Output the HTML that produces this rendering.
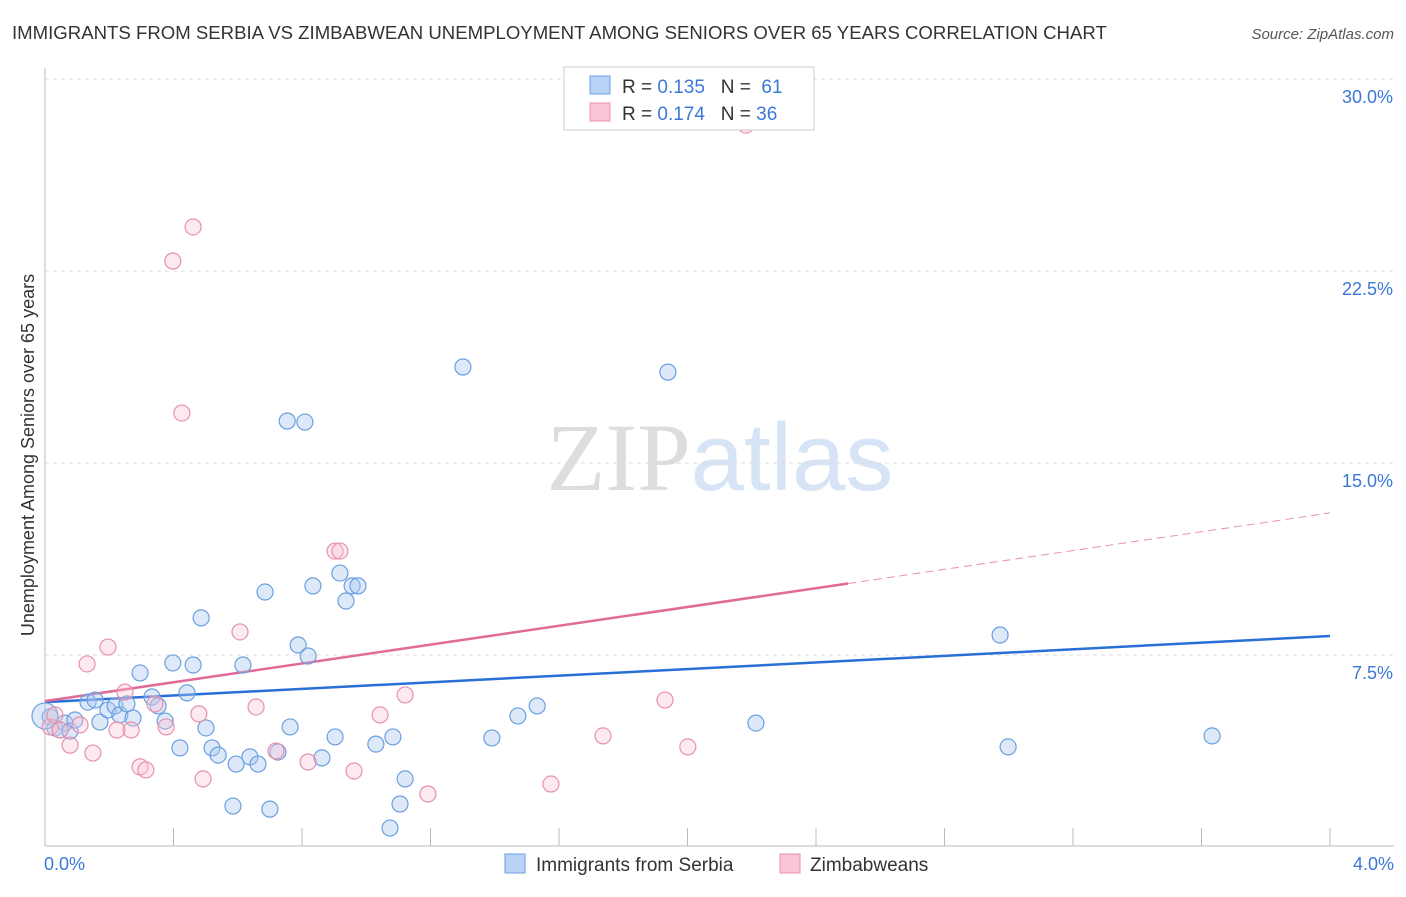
<!DOCTYPE html>
<html><head><meta charset="utf-8">
<style>
body{margin:0;background:#fff;font-family:"Liberation Sans",sans-serif;}
svg text{font-family:"Liberation Sans",sans-serif;}
</style></head>
<body>
<svg id="chart" width="1406" height="892" xmlns="http://www.w3.org/2000/svg">
<text x="12" y="39" font-size="18.6" fill="#333">IMMIGRANTS FROM SERBIA VS ZIMBABWEAN UNEMPLOYMENT AMONG SENIORS OVER 65 YEARS CORRELATION CHART</text>
<text x="1394" y="39" font-size="15" fill="#555" text-anchor="end" font-style="italic">Source: ZipAtlas.com</text>
<text x="720" y="490" font-size="96" text-anchor="middle"><tspan fill="#ddd" font-family="Liberation Serif">ZIP</tspan><tspan fill="#d6e4f5">atlas</tspan></text>
<g id="grid"></g><g id="axes"></g><g id="lines"></g><g id="points"></g>
<text transform="translate(34,455) rotate(-90)" font-size="18" fill="#333" text-anchor="middle">Unemployment Among Seniors over 65 years</text>
<g>
<rect x="564" y="67" width="250" height="63" fill="#fff" stroke="#ccc"/>
<rect x="590" y="76" width="20" height="18" fill="#b8d3f5" stroke="#6a9fe0"/>
<rect x="590" y="103" width="20" height="18" fill="#f9c6d6" stroke="#e890ad"/>
<text x="622" y="93" font-size="19" fill="#333" xml:space="preserve">R = <tspan fill="#3b78d8">0.135</tspan>   N =  <tspan fill="#3b78d8">61</tspan></text>
<text x="622" y="120" font-size="19" fill="#333" xml:space="preserve">R = <tspan fill="#3b78d8">0.174</tspan>   N = <tspan fill="#3b78d8">36</tspan></text>
</g>
<g>
<rect x="505" y="854" width="20" height="19" fill="#b8d3f5" stroke="#6a9fe0"/>
<text x="536" y="871" font-size="19" fill="#333">Immigrants from Serbia</text>
<rect x="780" y="854" width="20" height="19" fill="#f9c6d6" stroke="#e890ad"/>
<text x="810" y="871" font-size="19" fill="#333">Zimbabweans</text>
</g>
</svg>
<script>
const blueX=[0.016,0.031,0.047,0.062,0.078,0.093,0.134,0.156,0.171,0.196,0.218,0.233,0.255,0.274,0.296,0.333,0.352,0.374,0.398,0.420,0.442,0.461,0.486,0.501,0.520,0.539,0.595,0.616,0.638,0.663,0.685,0.700,0.585,0.725,0.754,0.763,0.788,0.809,0.819,0.834,0.862,0.903,0.918,0.937,0.956,0.974,1.030,1.074,1.083,1.105,1.121,1.301,1.391,1.472,1.532,1.939,2.213,2.973,2.998,3.633,0.0];
const blueY=[5.08,4.65,4.57,4.84,4.53,4.96,5.66,5.74,4.88,5.35,5.51,5.16,5.59,5.04,6.80,5.86,5.51,4.92,7.19,3.87,6.02,7.11,8.95,4.65,3.87,3.59,3.24,7.11,3.52,3.24,9.96,1.48,1.60,3.71,16.64,4.69,7.89,16.60,7.46,10.20,3.48,4.30,10.70,9.61,10.20,10.20,4.02,0.74,4.30,1.68,2.66,18.75,4.26,5.12,5.51,18.55,4.84,8.28,3.91,4.34,5.12];
const pinkX=[0.016,0.078,0.131,0.149,0.196,0.224,0.249,0.268,0.296,0.314,0.342,0.377,0.398,0.426,0.461,0.479,0.492,0.607,0.657,0.719,0.819,0.903,0.918,0.962,1.043,1.121,1.192,1.575,1.737,1.930,2.001,2.182,0.047,0.109,0.031];
const pinkY=[4.69,3.98,7.15,3.67,7.81,4.57,6.05,4.57,3.13,3.01,5.59,4.69,22.89,16.95,24.22,5.20,2.66,8.40,5.47,3.75,3.32,11.56,11.56,2.97,5.16,5.94,2.07,2.46,4.34,5.74,3.91,28.20,4.57,4.77,5.16];
const yTicks=[7.5,15,22.5,30];
const yTickLabels=["7.5%","15.0%","22.5%","30.0%"];
const xTicks=[0,0.4,0.8,1.2,1.6,2.0,2.4,2.8,3.2,3.6,4.0];
const blueLine=[5.66,8.24];
const pinkLine=[5.70,13.05];
const pinkSolidEnd=2.5;

const NS="http://www.w3.org/2000/svg";
const xs=v=>45+v*321.25, ys=v=>847-v*25.6;
function mk(parent,tag,attrs){const e=document.createElementNS(NS,tag);for(const k in attrs)e.setAttribute(k,attrs[k]);document.getElementById(parent).appendChild(e);return e;}
yTicks.forEach((t,i)=>{
 const l=mk('grid','line',{x1:45,x2:1394,y1:ys(t),y2:ys(t),stroke:'#ddd','stroke-dasharray':'4,4'});
 
 
 const tx=mk('axes','text',{x:1393,y:ys(t)+24,'font-size':18,fill:'#3b78d8','text-anchor':'end'});
 tx.textContent=yTickLabels[i];
 
 
});
const ax=mk('axes','line',{x1:45,x2:1394,y1:846,y2:846,stroke:'#bbb'});


const ay=mk('axes','line',{x1:45,x2:45,y1:68,y2:846,stroke:'#bbb'});


xTicks.forEach(t=>{
 const l=mk('axes','line',{x1:xs(t),x2:xs(t),y1:828,y2:846,stroke:'#bbb'});
 
 
});
const xl0=mk('axes','text',{x:44,y:870,'font-size':18,fill:'#3b78d8'});xl0.textContent='0.0%';


const xl1=mk('axes','text',{x:1394,y:870,'font-size':18,fill:'#3b78d8','text-anchor':'end'});xl1.textContent='4.0%';



blueX.forEach((x,i)=>{
 const c=mk('points','circle',{cx:xs(x),cy:ys(blueY[i]),r:i===blueX.length-1?13:8,fill:'rgba(170,200,240,0.4)',stroke:'#6a9fe0','stroke-width':1.2});
 
 
});
pinkX.forEach((x,i)=>{
 const c=mk('points','circle',{cx:xs(x),cy:ys(pinkY[i]),r:8,fill:'rgba(248,195,212,0.35)',stroke:'#e890ad','stroke-width':1.2});
 
 
});
const bl=mk('lines','line',{x1:xs(0),y1:ys(blueLine[0]),x2:xs(4),y2:ys(blueLine[1]),stroke:'#2a6fd6','stroke-width':2.5});


const pAt=x=>pinkLine[0]+(pinkLine[1]-pinkLine[0])*x/4;
const pl=mk('lines','line',{x1:xs(0),y1:ys(pinkLine[0]),x2:xs(pinkSolidEnd),y2:ys(pAt(pinkSolidEnd)),stroke:'#e06a98','stroke-width':2.5});


const pd=mk('lines','line',{x1:xs(pinkSolidEnd),y1:ys(pAt(pinkSolidEnd)),x2:xs(4),y2:ys(pinkLine[1]),stroke:'#e890ad','stroke-width':1,'stroke-dasharray':'8,5'});


</script>
</body></html>
